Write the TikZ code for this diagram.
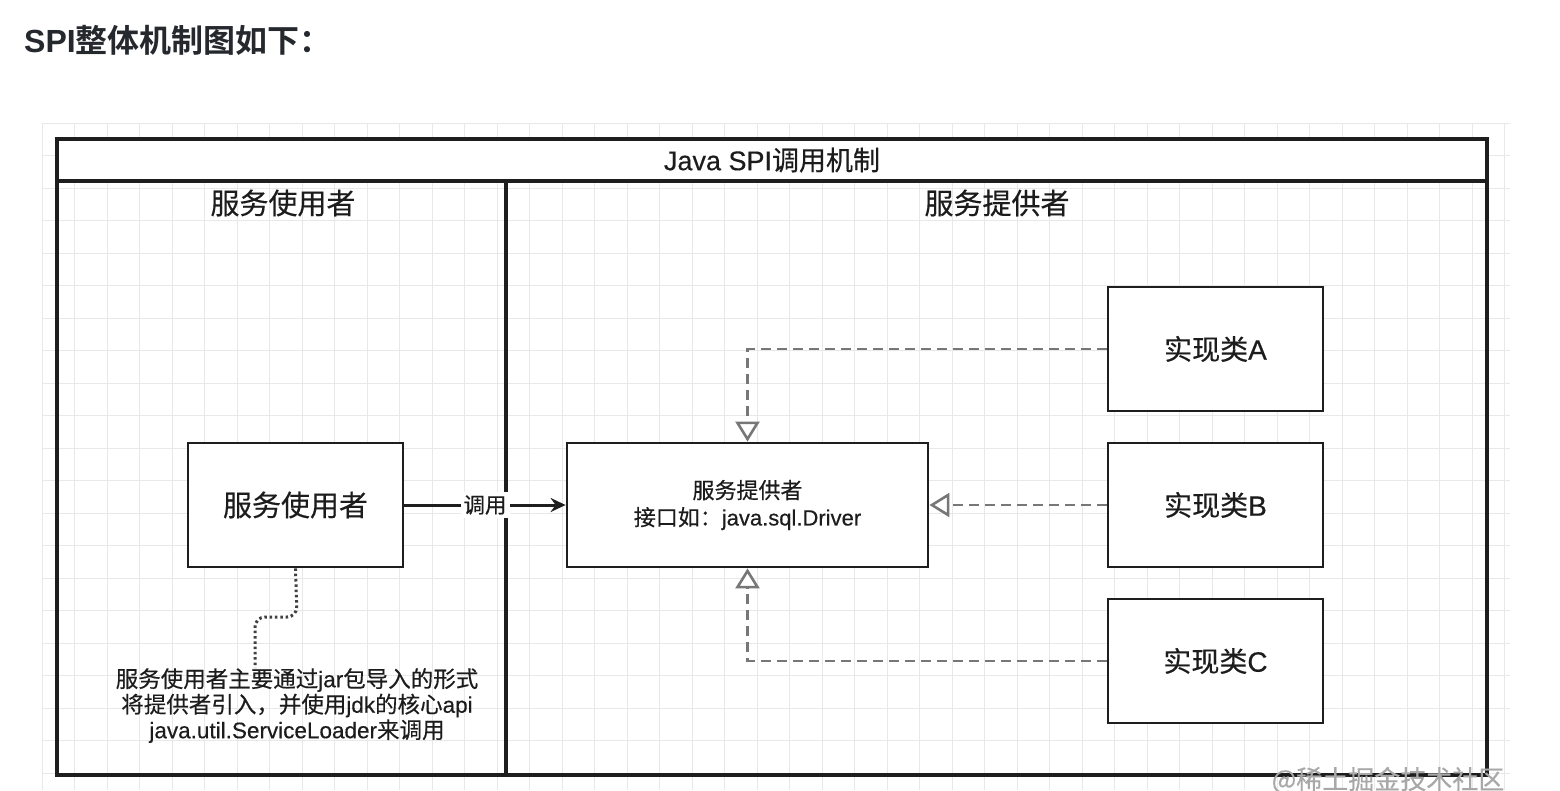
\documentclass[tikz,border=0pt]{standalone}
\usepackage{fontspec}
\setmainfont{Noto Sans CJK SC}[FakeBold=0.4]
\newfontfamily\lat{Liberation Sans}[FakeBold=0.4]
\newfontfamily\heavy{Noto Sans CJK SC}[BoldFont={Noto Sans CJK SC Bold}]
\newfontfamily\heavylat{Liberation Sans}
\usetikzlibrary{arrows.meta}
\definecolor{ink}{HTML}{1C1C1C}
\definecolor{frame}{HTML}{1E1E1E}
\definecolor{dashc}{HTML}{777777}
\definecolor{gridc}{HTML}{E8E8E8}
\definecolor{headc}{HTML}{25292E}
\definecolor{wmark}{HTML}{A8A8A8}
\tikzset{
  fs/.style 2 args={font=\fontsize{#1}{#2}\selectfont},
  boxnode/.style={draw=frame, line width=2.8pt, fill=white, text=ink, inner sep=0pt},
  implink/.style={draw=dashc, line width=2.6pt, dash pattern=on 10pt off 6pt,
     -{Triangle[open,length=20pt,width=24pt,fill=white]}},
  calllink/.style={draw=frame, line width=3pt, -{Stealth[length=15pt,width=14pt,inset=5pt]}},
  dotlink/.style={draw=black!75, line width=3pt, dash pattern=on 2.5pt off 2.8pt},
}
\begin{document}
\begin{tikzpicture}[x=1pt,y=-1pt]
\useasboundingbox (0,0) rectangle (1560,790);
\fill[white] (0,0) rectangle (1560,790);
% grid background
\foreach \i in {0,...,45} \draw[gridc, line width=1pt] (42+\i*32.5,123) -- (42+\i*32.5,790);
\foreach \j in {0,...,20} \draw[gridc, line width=1pt] (42,123+\j*32.5) -- (1510,123+\j*32.5);
% heading
\node[anchor=base west, text=headc, fs={32}{38}, inner sep=0pt] (heading) at (24,52) {\bfseries{\heavylat SPI}\heavy 整体机制图如下：};
% frame
\fill[white] (57,139) rectangle (1487,181);
\draw[frame, line width=3.2pt] (57,139) rectangle (1487,775);
\draw[frame, line width=3.2pt] (57,181) -- (1487,181);
\draw[frame, line width=3.2pt] (506,181) -- (506,775);
\node[text=ink, fs={27}{32}] (title) at (772,160) {{\lat Java SPI}调用机制};
\node[text=ink, fs={29}{34}] (hleft) at (283,203) {服务使用者};
\node[text=ink, fs={29}{34}] (hright) at (997,203) {服务提供者};
% boxes
\node[boxnode, minimum width=215pt, minimum height=124pt, fs={29}{34}] (user) at (295.5,505) {服务使用者};
\node[boxnode, minimum width=361pt, minimum height=124pt, fs={22}{27}, align=center] (iface) at (747.5,505) {服务提供者\\接口如：{\lat java.sql.Driver}};
\node[boxnode, minimum width=215pt, minimum height=124pt, fs={28}{33}] (implA) at (1215.5,349) {实现类{\lat A}};
\node[boxnode, minimum width=215pt, minimum height=124pt, fs={28}{33}] (implB) at (1215.5,505) {实现类{\lat B}};
\node[boxnode, minimum width=215pt, minimum height=124pt, fs={28}{33}] (implC) at (1215.5,661) {实现类{\lat C}};
% connectors
\draw[implink] (implA.west) -| (iface.north);
\draw[implink] (implB.west) -- (iface.east);
\draw[implink] (implC.west) -| (iface.south);
\draw[calllink] (user.east) -- (iface.west) node[pos=0.5, fill=white, text=ink, fs={21.5}{25}, inner sep=3pt] (calllabel) {调用};
% note
\node[anchor=north, align=center, text=ink, fs={22.5}{25.5}, inner sep=0pt] (note) at (297,668)
  {服务使用者主要通过{\lat jar}包导入的形式\\将提供者引入，并使用{\lat jdk}的核心{\lat api}\\{\lat java.util.ServiceLoader}来调用};
\coordinate (d1) at (297,617);
\coordinate (d2) at (255,617);
\draw[dotlink, rounded corners=10pt] (user.south) -- (d1) -- (d2) -- (d2 |- note.north);
% watermark
\node[text=wmark, fs={26}{30}, anchor=base] (wm) at (1388,789) {@稀土掘金技术社区};
\end{tikzpicture}
\end{document}
